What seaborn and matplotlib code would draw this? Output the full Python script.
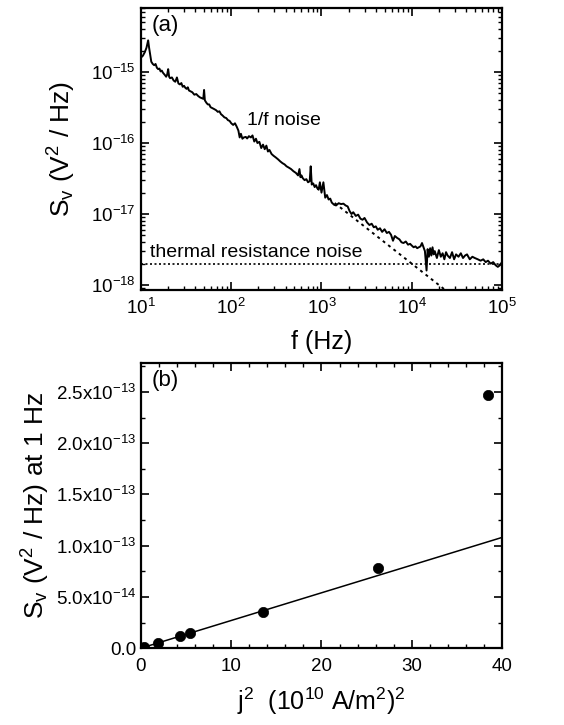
import numpy as np
import pandas as pd
import matplotlib
matplotlib.use("Agg")
import matplotlib.pyplot as plt
from matplotlib.ticker import LogLocator, MultipleLocator, FixedLocator, NullFormatter
import seaborn as sns

# ---- panel (a): voltage noise spectrum, in four frequency segments ----
# 10 Hz - 100 Hz, values in units of 1e-16 V^2/Hz
freq_seg1 = [10, 10.5, 11, 11.5, 12, 12.3, 12.7, 13, 13.5, 14, 14.5, 15, 15.5, 16, 16.5,
             17, 17.5, 18, 18.5, 19, 19.5, 20, 20.5, 21, 22, 23, 24, 25, 26, 27, 28, 29,
             30, 31, 32, 33, 34, 35, 37, 39, 41, 43, 45, 47, 49, 50, 51, 53, 55, 57, 59,
             62, 65, 68, 71, 74, 77, 80, 84, 88, 92, 96, 100]
sv_seg1 = [16, 17, 19, 22, 28, 22, 17, 14, 13, 12.5, 13, 11.5, 11, 11.2, 10.2, 10.5, 9.8,
           9.4, 9.0, 8.6, 9.2, 11, 8.6, 8.2, 8.4, 7.6, 7.3, 8.4, 6.9, 6.7, 7.0, 6.2, 6.4,
           6.0, 5.8, 6.1, 5.5, 5.4, 5.2, 4.8, 4.9, 4.6, 4.4, 4.3, 4.2, 5.6, 4.0, 3.7, 3.5,
           3.5, 3.2, 3.1, 3.0, 2.9, 2.75, 2.8, 2.55, 2.45, 2.3, 2.25, 2.1, 2.05, 1.9]
# 100 Hz - 1 kHz, units of 1e-17
freq_seg2 = [105, 110, 115, 120, 124, 128, 133, 138, 145, 150, 157, 165, 172, 180, 188,
             195, 205, 215, 225, 235, 245, 255, 265, 280, 295, 310, 330, 350, 370, 390,
             410, 435, 460, 490, 520, 550, 570, 585, 600, 620, 650, 680, 710, 740, 760,
             780, 810, 840, 870, 900, 930, 960, 1000]
sv_seg2 = [18, 19, 17, 15, 12, 13.5, 11.5, 12, 12.2, 11.6, 12.5, 12.0, 12.8, 10.5, 11.5,
           10.0, 10.4, 8.5, 9.5, 8.2, 9.2, 7.6, 8.0, 7.0, 6.6, 6.3, 5.9, 5.5, 5.2, 5.0,
           4.7, 4.5, 4.3, 4.0, 3.8, 3.5, 4.3, 3.3, 3.5, 3.2, 3.0, 3.1, 2.8, 2.9, 4.7, 2.6,
           2.7, 2.4, 2.55, 2.3, 2.2, 2.8, 2.0]
# 1 kHz - 10 kHz, units of 1e-18
freq_seg3 = [1050, 1100, 1150, 1200, 1250, 1300, 1380, 1450, 1550, 1650, 1750, 1850,
             1950, 2050, 2150, 2250, 2400, 2550, 2700, 2850, 3000, 3200, 3400, 3600, 3800,
             4000, 4200, 4450, 4700, 5000, 5300, 5600, 5900, 6200, 6500, 6900, 7300, 7700,
             8100, 8600, 9100, 9600, 10000]
sv_seg3 = [28, 17, 18.5, 16, 16.5, 14.5, 13.5, 13.2, 14.2, 13.8, 14.0, 13.2, 12.8, 11.0,
           10.0, 10.6, 9.4, 9.8, 8.6, 8.3, 8.8, 7.6, 7.0, 7.3, 6.5, 6.7, 6.0, 6.3, 5.6,
           6.1, 5.4, 5.6, 5.1, 4.2, 4.9, 4.6, 4.4, 4.0, 3.9, 4.1, 3.7, 3.8, 3.6]
# 10 kHz - 100 kHz, units of 1e-18
freq_seg4 = [10500, 11000, 11500, 12000, 12500, 13000, 13500, 14000, 14300, 14600, 15000,
             15500, 16000, 16500, 17000, 17500, 18000, 19000, 20000, 21000, 22000, 23000,
             24000, 25000, 26500, 28000, 29500, 31000, 33000, 35000, 37000, 39000, 41000,
             44000, 47000, 50000, 54000, 58000, 62000, 66000, 70000, 75000, 80000, 85000,
             90000, 95000, 100000]
sv_seg4 = [3.4, 3.5, 3.3, 3.4, 3.5, 3.9, 3.4, 3.0, 2.2, 1.6, 3.2, 2.5, 3.3, 2.6, 3.4, 2.7,
           3.0, 2.4, 3.1, 2.5, 2.8, 2.3, 2.9, 2.6, 2.4, 2.9, 2.3, 2.7, 2.5, 2.8, 2.4, 2.6,
           2.7, 2.3, 2.5, 2.4, 2.3, 2.2, 2.3, 2.1, 2.2, 2.0, 2.1, 1.9, 1.8, 1.9, 2.1]
seg_units = [1e-16, 1e-17, 1e-18, 1e-18]

# 1/f component S = A / f and the flat thermal floor
one_over_f_amp = 2.0e-14
one_over_f_range = [1400, 30000]
thermal_level = 2.0e-18
thermal_range = [10, 100000]

# ---- panel (b): noise at 1 Hz versus j^2 ----
j2_vals = [0.3, 1.9, 4.3, 5.4, 13.5, 26.3, 38.4]
sv_1hz = [1.0e-15, 4.9e-15, 1.14e-14, 1.46e-14, 3.57e-14, 7.86e-14, 2.47e-13]
fit_slope = 2.7e-15
fit_range = [0, 40]

sns.set_theme(style="ticks")
plt.rcParams["font.family"] = ["Liberation Sans", "DejaVu Sans"]
plt.rcParams["mathtext.fontset"] = "custom"
plt.rcParams["mathtext.rm"] = "Liberation Sans"
plt.rcParams["mathtext.it"] = "Liberation Sans"
plt.rcParams["mathtext.default"] = "regular"
for key in ("text.color", "axes.labelcolor", "xtick.color", "ytick.color", "axes.edgecolor"):
    plt.rcParams[key] = "black"

fig = plt.figure(figsize=(5.64, 7.25), dpi=100)
ax1 = fig.add_axes([0.250, 0.600, 0.640, 0.389])
ax2 = fig.add_axes([0.250, 0.106, 0.640, 0.393])

tick_kw = dict(direction="in", top=True, right=True, labelsize=13.5, colors="black")

# panel (a)
freqs = []
values = []
for fs, vs, u in zip((freq_seg1, freq_seg2, freq_seg3, freq_seg4),
                     (sv_seg1, sv_seg2, sv_seg3, sv_seg4), seg_units):
    freqs.extend(fs)
    values.extend(v * u for v in vs)
spec = pd.DataFrame({"f": freqs, "S": values})
sns.lineplot(data=spec, x="f", y="S", ax=ax1, color="black", linewidth=1.4,
             sort=False, estimator=None)
f_line = np.array(one_over_f_range, dtype=float)
sns.lineplot(x=f_line, y=one_over_f_amp / f_line, ax=ax1, color="black",
             linewidth=1.4, linestyle=(0, (1.5, 2.0)))
sns.lineplot(x=thermal_range, y=[thermal_level] * 2, ax=ax1, color="black",
             linewidth=1.2, linestyle=(0, (1.2, 1.5)))
ax1.set_xscale("log")
ax1.set_yscale("log")
ax1.set_xlim(10, 1e5)
ax1.set_ylim(8.5e-19, 8.0e-15)
ax1.xaxis.set_major_locator(LogLocator(base=10, numticks=10))
ax1.xaxis.set_minor_locator(LogLocator(base=10, subs=np.arange(2, 10), numticks=20))
ax1.yaxis.set_major_locator(FixedLocator([1e-18, 1e-17, 1e-16, 1e-15]))
ax1.yaxis.set_minor_locator(LogLocator(base=10, subs=np.arange(2, 10), numticks=20))
ax1.xaxis.set_minor_formatter(NullFormatter())
ax1.yaxis.set_minor_formatter(NullFormatter())
ax1.tick_params(which="major", length=6, width=1.2, **tick_kw)
ax1.tick_params(which="minor", length=3, width=1.0, direction="in", top=True, right=True)
ax1.tick_params(axis="x", which="major", pad=6)
ax1.set_xlabel("f (Hz)", fontsize=18, labelpad=8)
ax1.set_ylabel(r"S$_\mathrm{v}$ (V$^2$ / Hz)", fontsize=19, labelpad=10)
ax1.text(0.03, 0.975, "(a)", transform=ax1.transAxes, fontsize=16, va="top", ha="left")
ax1.text(150, 2.1e-16, "1/f noise", fontsize=14, ha="left", va="center")
ax1.text(12.5, 2.2e-18, "thermal resistance noise", fontsize=14, ha="left", va="bottom")

# panel (b)
pts = pd.DataFrame({"j2": j2_vals, "S": sv_1hz})
fx = np.array(fit_range, dtype=float)
sns.lineplot(x=fx, y=fit_slope * fx, ax=ax2, color="black", linewidth=1.1)
sns.scatterplot(data=pts, x="j2", y="S", ax=ax2, color="black", s=55,
                edgecolor="black", linewidth=0.5, zorder=3)
ax2.set_xlim(0, 40)
ax2.set_ylim(0, 2.78e-13)
ax2.xaxis.set_major_locator(MultipleLocator(10))
ax2.xaxis.set_minor_locator(MultipleLocator(2))
ytick_vals = [0.0, 5.0e-14, 1.0e-13, 1.5e-13, 2.0e-13, 2.5e-13]
ytick_labels = ["0.0", r"5.0x10$^{-14}$", r"1.0x10$^{-13}$", r"1.5x10$^{-13}$",
                r"2.0x10$^{-13}$", r"2.5x10$^{-13}$"]
ax2.yaxis.set_major_locator(FixedLocator(ytick_vals))
ax2.set_yticklabels(ytick_labels)
ax2.yaxis.set_minor_locator(MultipleLocator(2.5e-14))
ax2.tick_params(which="major", length=6, width=1.2, **tick_kw)
ax2.tick_params(which="minor", length=3, width=1.0, direction="in", top=True, right=True)
ax2.tick_params(axis="x", which="major", pad=7)
ax2.set_xlabel(r"j$^2$  (10$^{10}$ A/m$^2$)$^2$", fontsize=18, labelpad=8)
ax2.set_ylabel(r"S$_\mathrm{v}$ (V$^2$ / Hz) at 1 Hz", fontsize=19, labelpad=3)
ax2.text(0.03, 0.975, "(b)", transform=ax2.transAxes, fontsize=16, va="top", ha="left")

for ax in (ax1, ax2):
    for sp in ax.spines.values():
        sp.set_linewidth(1.6)
        sp.set_color("black")
        sp.set_visible(True)

fig.savefig("out.png", dpi=100)
